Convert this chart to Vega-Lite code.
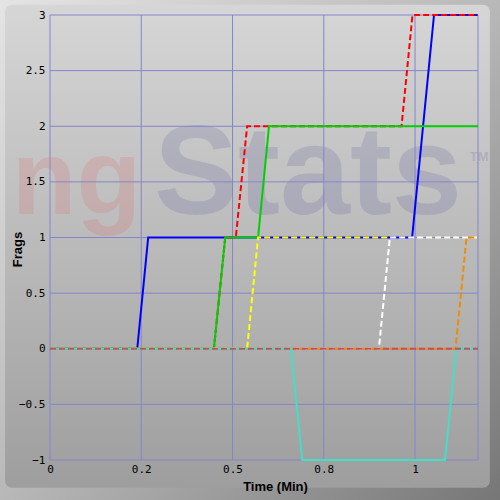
{
  "$schema": "https://vega.github.io/schema/vega-lite/v6.json",
  "width": 428,
  "height": 445,
  "autosize": {"type": "none"},
  "padding": {"left": 50, "top": 15, "right": 22, "bottom": 40},
  "background": "#a0a0a0",
  "view": {"stroke": null},
  "config": {
    "axis": {
      "grid": false,
      "ticks": false,
      "domain": false,
      "labelFont": "DejaVu Sans Mono",
      "labelFontSize": 11,
      "labelColor": "#000000",
      "labelFlush": false,
      "labelOverlap": false,
      "titleFont": "Liberation Sans",
      "titleFontSize": 13,
      "titleFontWeight": "bold",
      "titleColor": "#000000"
    }
  },
  "datasets": {
    "frags": [
      {"player": "Blue", "t": 0, "frags": 0},
      {"player": "Blue", "t": 0.239, "frags": 0},
      {"player": "Blue", "t": 0.269, "frags": 1},
      {"player": "Blue", "t": 0.992, "frags": 1},
      {"player": "Blue", "t": 1.052, "frags": 3},
      {"player": "Blue", "t": 1.1725, "frags": 3},
      {"player": "Red", "t": 0, "frags": 0},
      {"player": "Red", "t": 0.449, "frags": 0},
      {"player": "Red", "t": 0.48, "frags": 1},
      {"player": "Red", "t": 0.509, "frags": 1},
      {"player": "Red", "t": 0.54, "frags": 2},
      {"player": "Red", "t": 0.963, "frags": 2},
      {"player": "Red", "t": 0.993, "frags": 3},
      {"player": "Red", "t": 1.1725, "frags": 3},
      {"player": "Green", "t": 0, "frags": 0},
      {"player": "Green", "t": 0.449, "frags": 0},
      {"player": "Green", "t": 0.48, "frags": 1},
      {"player": "Green", "t": 0.57, "frags": 1},
      {"player": "Green", "t": 0.6, "frags": 2},
      {"player": "Green", "t": 1.1725, "frags": 2},
      {"player": "White", "t": 0, "frags": 0},
      {"player": "White", "t": 0.901, "frags": 0},
      {"player": "White", "t": 0.931, "frags": 1},
      {"player": "White", "t": 1.1725, "frags": 1},
      {"player": "Yellow", "t": 0, "frags": 0},
      {"player": "Yellow", "t": 0.54, "frags": 0},
      {"player": "Yellow", "t": 0.57, "frags": 1},
      {"player": "Yellow", "t": 0.931, "frags": 1},
      {"player": "Orange", "t": 0, "frags": 0},
      {"player": "Orange", "t": 1.111, "frags": 0},
      {"player": "Orange", "t": 1.141, "frags": 1},
      {"player": "Orange", "t": 1.1725, "frags": 1},
      {"player": "Teal", "t": 0, "frags": 0},
      {"player": "Teal", "t": 0.66, "frags": 0},
      {"player": "Teal", "t": 0.691, "frags": -1},
      {"player": "Teal", "t": 1.082, "frags": -1},
      {"player": "Teal", "t": 1.113, "frags": 0},
      {"player": "Teal", "t": 1.1725, "frags": 0},
      {"player": "Maroon", "t": 0, "frags": 0},
      {"player": "Maroon", "t": 1.1725, "frags": 0}
    ]
  },
  "layer": [
    {
      "data": {"values": [{}]},
      "mark": {
        "type": "rect",
        "clip": false,
        "fill": {
          "gradient": "linear",
          "x1": 0, "y1": 0, "x2": 1, "y2": 1,
          "stops": [
            {"offset": 0, "color": "#e4e4e4"},
            {"offset": 0.5, "color": "#b8b8b8"},
            {"offset": 1, "color": "#767676"}
          ]
        }
      },
      "encoding": {
        "x": {
          "datum": -0.14,
          "type": "quantitative",
          "scale": {"domain": [0, 1.1725], "nice": false, "zero": false},
          "axis": {
            "zindex": 2,
            "values": [0, 0.25, 0.5, 0.75, 1],
            "format": "~g",
            "labelExpr": "datum.value == 0.25 ? '0.2' : datum.value == 0.75 ? '0.8' : datum.label",
            "labelDx": -4,
            "labelPadding": 3,
            "title": "Time (Min)",
            "titleX": 225,
            "titleY": 30,
            "titleAlign": "center",
            "titleBaseline": "alphabetic"
          }
        },
        "x2": {"datum": 1.24},
        "y": {
          "datum": 3.14,
          "type": "quantitative",
          "scale": {"domain": [-1, 3], "nice": false, "zero": false},
          "axis": {
            "zindex": 2,
            "values": [-1, -0.5, 0, 0.5, 1, 1.5, 2, 2.5, 3],
            "format": "~g",
            "labelPadding": 5,
            "title": "Frags",
            "titleAngle": -90,
            "titleX": -29,
            "titleY": 234,
            "titleAlign": "center",
            "titleBaseline": "alphabetic"
          }
        },
        "y2": {"datum": -1.37}
      }
    },
    {
      "data": {"values": [{}]},
      "mark": {
        "type": "rect",
        "clip": false,
        "cornerRadius": 7,
        "fill": {
          "gradient": "linear",
          "x1": 0, "y1": 0, "x2": 0, "y2": 1,
          "stops": [
            {"offset": 0, "color": "#d6d6d6"},
            {"offset": 1, "color": "#9e9e9e"}
          ]
        }
      },
      "encoding": {
        "x": {"datum": -0.123, "type": "quantitative"},
        "x2": {"datum": 1.205},
        "y": {"datum": 3.093, "type": "quantitative"},
        "y2": {"datum": -1.249}
      }
    },
    {
      "data": {"values": [{}]},
      "mark": {"type": "text", "text": "ng", "font": "Liberation Sans", "fontWeight": "bold", "fontSize": 106, "align": "left", "baseline": "alphabetic", "fill": "#ff0000", "opacity": 0.09},
      "encoding": {
        "x": {"datum": -0.105, "type": "quantitative"},
        "y": {"datum": 1.21, "type": "quantitative"}
      }
    },
    {
      "data": {"values": [{}]},
      "mark": {"type": "text", "text": "Stats", "font": "Liberation Sans", "fontWeight": "bold", "fontSize": 126, "align": "left", "baseline": "alphabetic", "fill": "#000080", "opacity": 0.1},
      "encoding": {
        "x": {"datum": 0.285, "type": "quantitative"},
        "y": {"datum": 1.21, "type": "quantitative"}
      }
    },
    {
      "data": {"values": [{}]},
      "mark": {"type": "text", "text": "TM", "font": "Liberation Sans", "fontWeight": "bold", "fontSize": 13, "align": "left", "baseline": "middle", "fill": "#000080", "opacity": 0.1},
      "encoding": {
        "x": {"datum": 1.15, "type": "quantitative"},
        "y": {"datum": 1.72, "type": "quantitative"}
      }
    },
    {
      "data": {"values": [{"v": 0}, {"v": 0.25}, {"v": 0.5}, {"v": 0.75}, {"v": 1}, {"v": 1.1725}]},
      "mark": {"type": "rule", "color": "#8585cc", "strokeWidth": 1},
      "encoding": {"x": {"field": "v", "type": "quantitative"}}
    },
    {
      "data": {"values": [{"v": -1}, {"v": -0.5}, {"v": 0}, {"v": 0.5}, {"v": 1}, {"v": 1.5}, {"v": 2}, {"v": 2.5}, {"v": 3}]},
      "mark": {"type": "rule", "color": "#8585cc", "strokeWidth": 1},
      "encoding": {"y": {"field": "v", "type": "quantitative"}}
    },
    {
      "data": {"name": "frags"},
      "transform": [{"filter": "datum.player == 'Blue'"}],
      "mark": {"type": "line", "color": "#0000ff", "strokeWidth": 2},
      "encoding": {
        "x": {"field": "t", "type": "quantitative"},
        "y": {"field": "frags", "type": "quantitative"}
      }
    },
    {
      "data": {"name": "frags"},
      "transform": [{"filter": "datum.player == 'Red'"}],
      "mark": {"type": "line", "color": "#ff0000", "strokeWidth": 2, "strokeDash": [6, 3]},
      "encoding": {
        "x": {"field": "t", "type": "quantitative"},
        "y": {"field": "frags", "type": "quantitative"}
      }
    },
    {
      "data": {"name": "frags"},
      "transform": [{"filter": "datum.player == 'Green'"}],
      "mark": {"type": "line", "color": "#00d000", "strokeWidth": 2},
      "encoding": {
        "x": {"field": "t", "type": "quantitative"},
        "y": {"field": "frags", "type": "quantitative"}
      }
    },
    {
      "data": {"name": "frags"},
      "transform": [{"filter": "datum.player == 'White'"}],
      "mark": {"type": "line", "color": "#ffffff", "strokeWidth": 2, "strokeDash": [6, 3]},
      "encoding": {
        "x": {"field": "t", "type": "quantitative"},
        "y": {"field": "frags", "type": "quantitative"}
      }
    },
    {
      "data": {"name": "frags"},
      "transform": [{"filter": "datum.player == 'Yellow'"}],
      "mark": {"type": "line", "color": "#ffff00", "strokeWidth": 2, "strokeDash": [6, 3]},
      "encoding": {
        "x": {"field": "t", "type": "quantitative"},
        "y": {"field": "frags", "type": "quantitative"}
      }
    },
    {
      "data": {"name": "frags"},
      "transform": [{"filter": "datum.player == 'Orange'"}],
      "mark": {"type": "line", "color": "#f08c00", "strokeWidth": 2, "strokeDash": [6, 3], "strokeDashOffset": 3},
      "encoding": {
        "x": {"field": "t", "type": "quantitative"},
        "y": {"field": "frags", "type": "quantitative"}
      }
    },
    {
      "data": {"name": "frags"},
      "transform": [{"filter": "datum.player == 'Teal'"}],
      "mark": {"type": "line", "color": "#40e0c8", "strokeWidth": 2},
      "encoding": {
        "x": {"field": "t", "type": "quantitative"},
        "y": {"field": "frags", "type": "quantitative"}
      }
    },
    {
      "data": {"name": "frags"},
      "transform": [{"filter": "datum.player == 'Maroon'"}],
      "mark": {"type": "line", "color": "#c05060", "strokeWidth": 2, "strokeDash": [6, 3]},
      "encoding": {
        "x": {"field": "t", "type": "quantitative"},
        "y": {"field": "frags", "type": "quantitative"}
      }
    }
  ]
}
